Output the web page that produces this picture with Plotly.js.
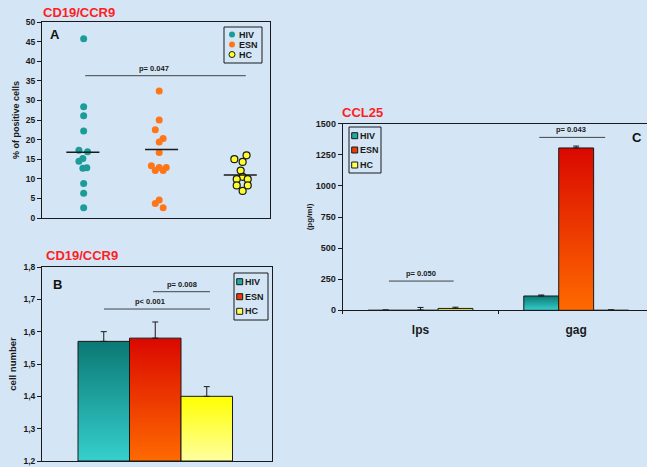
<!DOCTYPE html>
<html><head><meta charset="utf-8">
<script src="https://cdn.plot.ly/plotly-3.0.1.min.js"></script>
<style>html,body{margin:0;padding:0;background:#d4e5f5;}#chart{width:647px;height:467px;}</style>
</head><body><div id="chart"></div>
<script>
// ---------- data ----------
const groups = ['HIV', 'ESN', 'HC'];

// Panel A: CD19/CCR9, % of positive cells (individual subjects)
const hivValues = [45.7, 28.4, 26.1, 22.2, 17.3, 16.9, 15.2, 14.5, 12.7, 12.8, 8.8, 6.3, 2.6];
const hivJitter = [0.01, 0.01, 0.01, 0.01, -0.05, 0.06, 0, -0.05, 0, 0.05, 0.01, 0.01, 0.01];
const esnValues = [32.4, 25.0, 22.5, 20.3, 19.4, 16.7, 13.3, 12.9, 12.9, 12.1, 12.1, 4.6, 3.7, 2.6];
const esnJitter = [-0.03, -0.03, -0.08, 0.02, -0.03, -0.03, -0.13, -0.03, 0.06, -0.08, 0.02, -0.03, -0.08, 0.02];
const hcValues = [16.0, 15.0, 14.3, 12.1, 10.5, 9.9, 9.9, 8.3, 8.3, 6.9];
const hcJitter = [0.08, -0.075, 0.03, 0.005, 0.03, -0.045, 0.095, -0.045, 0.095, 0.03];
const groupMeans = [16.8, 17.5, 11.0];
const pTextA = 'p= 0.047';

// Panel B: CD19/CCR9 cell number
const cellNumber = [1.57, 1.58, 1.40];
const cellNumberErr = [0.03, 0.05, 0.03];
const yTickValsB = [1.2, 1.3, 1.4, 1.5, 1.6, 1.7, 1.8];
const yTickTextB = ['1,2', '1,3', '1,4', '1,5', '1,6', '1,7', '1,8'];
const pTextsB = ['p= 0.008', 'p< 0.001'];

// Panel C: CCL25 (pg/ml)
const stimuli = ['lps', 'gag'];
const ccl25 = {HIV: [2, 115], ESN: [3, 1305], HC: [15, 3]};
const ccl25Err = {HIV: [0, 8], ESN: [20, 15], HC: [10, 0]};
const pTextsC = ['p= 0.050', 'p= 0.043'];

// ---------- styles ----------
const W = 647, H = 467;
const FONT = 'Liberation Sans, Arial, sans-serif';
const BG = '#d4e5f5';
const INK = '#1a1a1a';
const pointColors = {HIV: '#1b9c98', ESN: '#ff7619', HC: '#ffff2e'};
const swatchColors = {HIV: '#22a8a5', ESN: '#ee3a06', HC: '#ffff55'};
const gradients = {
  HIV: [[0, '#36cfcd'], [1, '#0b7874']],
  ESN: [[0, '#ff6a00'], [1, '#da0800']],
  HC:  [[0, '#ffffa0'], [1, '#ffff00']]
};
const px = v => v / W;
const py = v => 1 - v / H;

const traces = [];
const shapes = [];
const annotations = [];

// ---------- Panel A ----------
const allA = [hivValues, esnValues, hcValues];
const jitA = [hivJitter, esnJitter, hcJitter];
groups.forEach((g, i) => {
  traces.push({
    type: 'scatter', mode: 'markers', xaxis: 'x', yaxis: 'y',
    x: allA[i].map((v, k) => i + 1 + jitA[i][k]), y: allA[i],
    marker: {size: 7, color: pointColors[g],
      line: {width: g === 'HC' ? 1.2 : 0, color: INK}},
    showlegend: false, hoverinfo: 'y', name: g
  });
});
{
  const mx = [], my = [];
  groupMeans.forEach((m, i) => { mx.push(i + 1 - 0.21, i + 1 + 0.21, null); my.push(m, m, null); });
  traces.push({type: 'scatter', mode: 'lines', xaxis: 'x', yaxis: 'y', x: mx, y: my,
    line: {color: INK, width: 1.5}, showlegend: false, hoverinfo: 'skip'});
}
shapes.push({type: 'line', xref: 'x', yref: 'y', x0: 1.03, x1: 3.07, y0: 36.3, y1: 36.3,
  line: {color: '#444', width: 1}});
annotations.push({xref: 'x', yref: 'y', x: 1.91, y: 36.3, yanchor: 'bottom', yshift: 1,
  text: pTextA, showarrow: false, font: {family: FONT, size: 7.5, weight: 'bold', color: INK}});

// ---------- bars helper ----------
function barRect(xa, ya, cx, w, base, v, g) {
  traces.push({
    type: 'scatter', mode: 'lines', xaxis: xa, yaxis: ya,
    x: [cx - w / 2, cx + w / 2, cx + w / 2, cx - w / 2, cx - w / 2],
    y: [base, base, v, v, base],
    fill: 'toself',
    fillgradient: {type: 'vertical', colorscale: gradients[g]},
    fillcolor: swatchColors[g],
    line: {color: INK, width: 1}, showlegend: false, hoverinfo: 'skip'
  });
}
function errTrace(xa, ya, xs, ys, errs) {
  traces.push({
    type: 'scatter', mode: 'markers', xaxis: xa, yaxis: ya, x: xs, y: ys,
    marker: {size: 1, color: 'rgba(0,0,0,0)'},
    error_y: {type: 'data', symmetric: false, array: errs, arrayminus: errs.map(() => 0),
      color: INK, thickness: 1, width: 3},
    showlegend: false, hoverinfo: 'skip'
  });
}

// ---------- Panel B ----------
groups.forEach((g, i) => barRect('x2', 'y2', i, 1, 1.2, cellNumber[i], g));
errTrace('x2', 'y2', [0, 1, 2], cellNumber, cellNumberErr);
shapes.push({type: 'line', xref: 'x2', yref: 'y2', x0: 0.956, x1: 2.063, y0: 1.7236, y1: 1.7236,
  line: {color: '#444', width: 1}});
shapes.push({type: 'line', xref: 'x2', yref: 'y2', x0: 0.005, x1: 2.063, y0: 1.670, y1: 1.670,
  line: {color: '#444', width: 1}});
annotations.push({xref: 'x2', yref: 'y2', x: 1.52, y: 1.7236, yanchor: 'bottom', yshift: 1,
  text: pTextsB[0], showarrow: false, font: {family: FONT, size: 7.5, weight: 'bold', color: INK}});
annotations.push({xref: 'x2', yref: 'y2', x: 0.898, y: 1.670, yanchor: 'bottom', yshift: 1,
  text: pTextsB[1], showarrow: false, font: {family: FONT, size: 7.5, weight: 'bold', color: INK}});

// ---------- Panel C ----------
const bwC = 0.2244;
groups.forEach((g, s) => {
  const xs = [];
  stimuli.forEach((st, i) => {
    const cx = i + (s - 1) * bwC;
    xs.push(cx);
    barRect('x3', 'y3', cx, bwC, 0, ccl25[g][i], g);
  });
  errTrace('x3', 'y3', xs, ccl25[g], ccl25Err[g]);
});
shapes.push({type: 'line', xref: 'x3', yref: 'y3', x0: -0.203, x1: 0.213, y0: 235, y1: 235,
  line: {color: '#444', width: 1}});
shapes.push({type: 'line', xref: 'x3', yref: 'y3', x0: 0.763, x1: 1.186, y0: 1390, y1: 1390,
  line: {color: '#444', width: 1}});
annotations.push({xref: 'x3', yref: 'y3', x: 0.0, y: 235, yanchor: 'bottom', yshift: 1,
  text: pTextsC[0], showarrow: false, font: {family: FONT, size: 7.5, weight: 'bold', color: INK}});
annotations.push({xref: 'x3', yref: 'y3', x: 0.968, y: 1390, yanchor: 'bottom', yshift: 1,
  text: pTextsC[1], showarrow: false, font: {family: FONT, size: 7.5, weight: 'bold', color: INK}});

// ---------- legends (drawn in paper coordinates) ----------
function legend(box, symX, textX, ys, kind) {
  shapes.push({type: 'rect', xref: 'paper', yref: 'paper',
    x0: px(box[0]), x1: px(box[2]), y0: py(box[1]), y1: py(box[3]),
    line: {color: INK, width: 1}, fillcolor: BG});
  groups.forEach((g, i) => {
    const r = 3;
    shapes.push({type: kind, xref: 'paper', yref: 'paper',
      x0: px(symX - r), x1: px(symX + r), y0: py(ys[i] - r), y1: py(ys[i] + r),
      fillcolor: kind === 'circle' ? pointColors[g] : swatchColors[g],
      line: {color: INK, width: (kind === 'circle' && g !== 'HC') ? 0 : 1}});
    annotations.push({xref: 'paper', yref: 'paper', x: px(textX), y: py(ys[i]),
      xanchor: 'left', yanchor: 'middle', text: g, showarrow: false,
      font: {family: FONT, size: 9, weight: 'bold', color: INK}});
  });
}
legend([224, 27, 262, 63], 232, 236.5, [34.5, 44.5, 54.5], 'circle');
legend([234, 273, 268, 320], 239.7, 242.5, [281.7, 296.7, 311.3], 'rect');
legend([349, 127, 381, 173], 354.7, 357.5, [135.7, 150, 165], 'rect');

// ---------- panel titles and letters ----------
const titleFont = {family: FONT, size: 13, weight: 'bold', color: '#ff1e1e'};
const letterFont = {family: FONT, size: 13, weight: 'bold', color: '#111'};
annotations.push({xref: 'paper', yref: 'paper', x: px(41), y: py(13), xanchor: 'left', yanchor: 'middle',
  text: 'CD19/CCR9', showarrow: false, font: titleFont});
annotations.push({xref: 'paper', yref: 'paper', x: px(44), y: py(255), xanchor: 'left', yanchor: 'middle',
  text: 'CD19/CCR9', showarrow: false, font: titleFont});
annotations.push({xref: 'paper', yref: 'paper', x: px(340), y: py(112), xanchor: 'left', yanchor: 'middle',
  text: 'CCL25', showarrow: false, font: titleFont});
annotations.push({xref: 'paper', yref: 'paper', x: px(55), y: py(34), xanchor: 'center', yanchor: 'middle',
  text: 'A', showarrow: false, font: letterFont});
annotations.push({xref: 'paper', yref: 'paper', x: px(57), y: py(284), xanchor: 'center', yanchor: 'middle',
  text: 'B', showarrow: false, font: letterFont});
annotations.push({xref: 'paper', yref: 'paper', x: px(637), y: py(137), xanchor: 'center', yanchor: 'middle',
  text: 'C', showarrow: false, font: letterFont});

// ---------- axes ----------
const axBase = {showgrid: false, zeroline: false, showline: true, linecolor: INK, linewidth: 1,
  tickcolor: INK, fixedrange: true};
const layout = {
  width: W, height: H, margin: {l: 0, r: 0, t: 0, b: 0},
  paper_bgcolor: BG, plot_bgcolor: BG, showlegend: false,
  font: {family: FONT, color: INK},
  xaxis: Object.assign({}, axBase, {domain: [px(42), px(270)], range: [0.4807, 3.3778],
    mirror: true, showticklabels: false, ticks: '', anchor: 'y'}),
  yaxis: Object.assign({}, axBase, {domain: [py(218), py(22)], range: [0, 50], dtick: 5,
    mirror: true, ticks: 'outside', ticklen: 4, anchor: 'x',
    tickfont: {family: FONT, size: 8.5, weight: 'bold', color: INK},
    title: {text: '% of positive cells', standoff: 4, font: {family: FONT, size: 9, weight: 'bold', color: INK}}}),
  xaxis2: Object.assign({}, axBase, {domain: [px(42), px(272)], range: [-1.199, 3.267],
    mirror: true, showticklabels: false, ticks: '', anchor: 'y2'}),
  yaxis2: Object.assign({}, axBase, {domain: [py(461), py(267)], range: [1.2, 1.8],
    tickmode: 'array', tickvals: yTickValsB, ticktext: yTickTextB,
    mirror: true, ticks: 'outside', ticklen: 4, anchor: 'x2',
    tickfont: {family: FONT, size: 8.5, weight: 'bold', color: INK},
    title: {text: 'cell number', standoff: 5, font: {family: FONT, size: 9.5, weight: 'bold', color: INK}}}),
  xaxis3: Object.assign({}, axBase, {domain: [px(342.7), 1], range: [-0.5, 1.455],
    mirror: true, tickmode: 'array', tickvals: [0, 1], ticktext: stimuli, ticks: '',
    minor: {tickmode: 'array', tickvals: [-0.5, 0.5, 1.5], ticks: 'outside', ticklen: 3, tickcolor: INK},
    ticklabelstandoff: 8, anchor: 'y3',
    tickfont: {family: FONT, size: 12, weight: 'bold', color: INK}}),
  yaxis3: Object.assign({}, axBase, {domain: [py(310.3), py(123.7)], range: [0, 1500], dtick: 250,
    ticks: 'outside', ticklen: 4, anchor: 'x3',
    tickfont: {family: FONT, size: 9, weight: 'bold', color: INK},
    title: {text: '(pg/ml)', standoff: 2, font: {family: FONT, size: 8, weight: 'bold', color: INK}}}),
  shapes: shapes, annotations: annotations
};
Plotly.newPlot('chart', traces, layout, {displayModeBar: false, staticPlot: true});
</script></body></html>
